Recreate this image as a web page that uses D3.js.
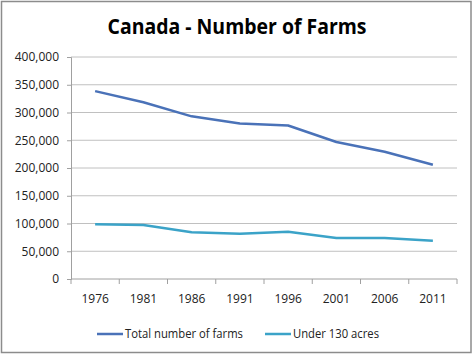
<!DOCTYPE html>
<html><head><meta charset="utf-8">
<script src="https://cdn.jsdelivr.net/npm/d3@7"></script>
<style>body{margin:0;background:#fff}svg{display:block}</style>
</head><body>
<svg id="c" width="474" height="355"></svg>
<script>
const years = ["1976","1981","1986","1991","1996","2001","2006","2011"];
const totalFarms = [338552, 318361, 293089, 280043, 276548, 246923, 229373, 205730];
const under130 = [98500, 97300, 84100, 81700, 85300, 73900, 73900, 69000];
const yTicks = [0, 50000, 100000, 150000, 200000, 250000, 300000, 350000, 400000];
const seriesNames = ["Total number of farms", "Under 130 acres"];
const colors = ["#4A72B8", "#3BA3C8"];

const svg = d3.select("#c");
const font = "'Open Sans', 'Noto Sans', sans-serif";
svg.append("rect").attr("x",1.5).attr("y",1.5).attr("width",469.5).attr("height",351)
  .attr("fill","#fff").attr("stroke","#8c8c8c").attr("stroke-width",1.5);

const L=71, R=457, T=57, B=279;
const x = d3.scaleBand().domain(years).range([L,R]);
const y = d3.scaleLinear().domain([0,400000]).range([B,T]);

// gridlines
svg.append("g").selectAll("line").data(yTicks.filter(d=>d>0)).join("line")
  .attr("x1",L).attr("x2",R).attr("y1",d=>y(d)).attr("y2",d=>y(d))
  .attr("stroke","#c0c0c0").attr("stroke-width",1);

// y axis
const ya = svg.append("g").attr("transform",`translate(${L},0)`)
  .call(d3.axisLeft(y).tickValues(yTicks).tickFormat(d3.format(",")).tickSize(4).tickPadding(8));
ya.select(".domain").attr("stroke","#a0a0a0");
ya.selectAll(".tick line").attr("stroke","#a0a0a0");
ya.selectAll("text").attr("font-family",font).attr("font-size",12).attr("fill","#222");

// x axis
const xa = svg.append("g").attr("transform",`translate(0,${B})`)
  .call(d3.axisBottom(x).tickSize(0).tickPadding(15));
xa.select(".domain").attr("stroke","#a0a0a0").attr("d",`M${L},0H${R}`);
xa.selectAll("text").attr("font-family",font).attr("font-size",12).attr("fill","#222");
svg.append("g").selectAll("line").data(years.map((d,i)=>i).concat([years.length])).join("line")
  .attr("x1",i=>L+i*x.bandwidth()).attr("x2",i=>L+i*x.bandwidth())
  .attr("y1",B).attr("y2",B+5).attr("stroke","#a0a0a0");

const line = d3.line().x((d,i)=>x(years[i])+x.bandwidth()/2).y(d=>y(d));
[totalFarms, under130].forEach((s,k)=>{
  svg.append("path").datum(s).attr("d",line).attr("fill","none")
    .attr("stroke",colors[k]).attr("stroke-width",2.5).attr("stroke-linejoin","round");
});

// title
svg.append("text").attr("x",237).attr("y",34).attr("text-anchor","middle")
  .attr("font-family",font).attr("font-weight","bold").attr("font-size",21)
  .attr("textLength",259).attr("lengthAdjust","spacingAndGlyphs")
  .attr("fill","#000").text("Canada - Number of Farms");

// legend
const leg = [{x1:97,x2:123,tx:125,tl:118},{x1:265,x2:291,tx:293,tl:86}];
leg.forEach((g,k)=>{
  svg.append("line").attr("x1",g.x1).attr("x2",g.x2).attr("y1",334).attr("y2",334)
    .attr("stroke",colors[k]).attr("stroke-width",2.5);
  svg.append("text").attr("x",g.tx).attr("y",338).attr("font-family",font).attr("font-size",12)
    .attr("textLength",g.tl).attr("lengthAdjust","spacingAndGlyphs")
    .attr("fill","#222").text(seriesNames[k]);
});
</script>
</body></html>
